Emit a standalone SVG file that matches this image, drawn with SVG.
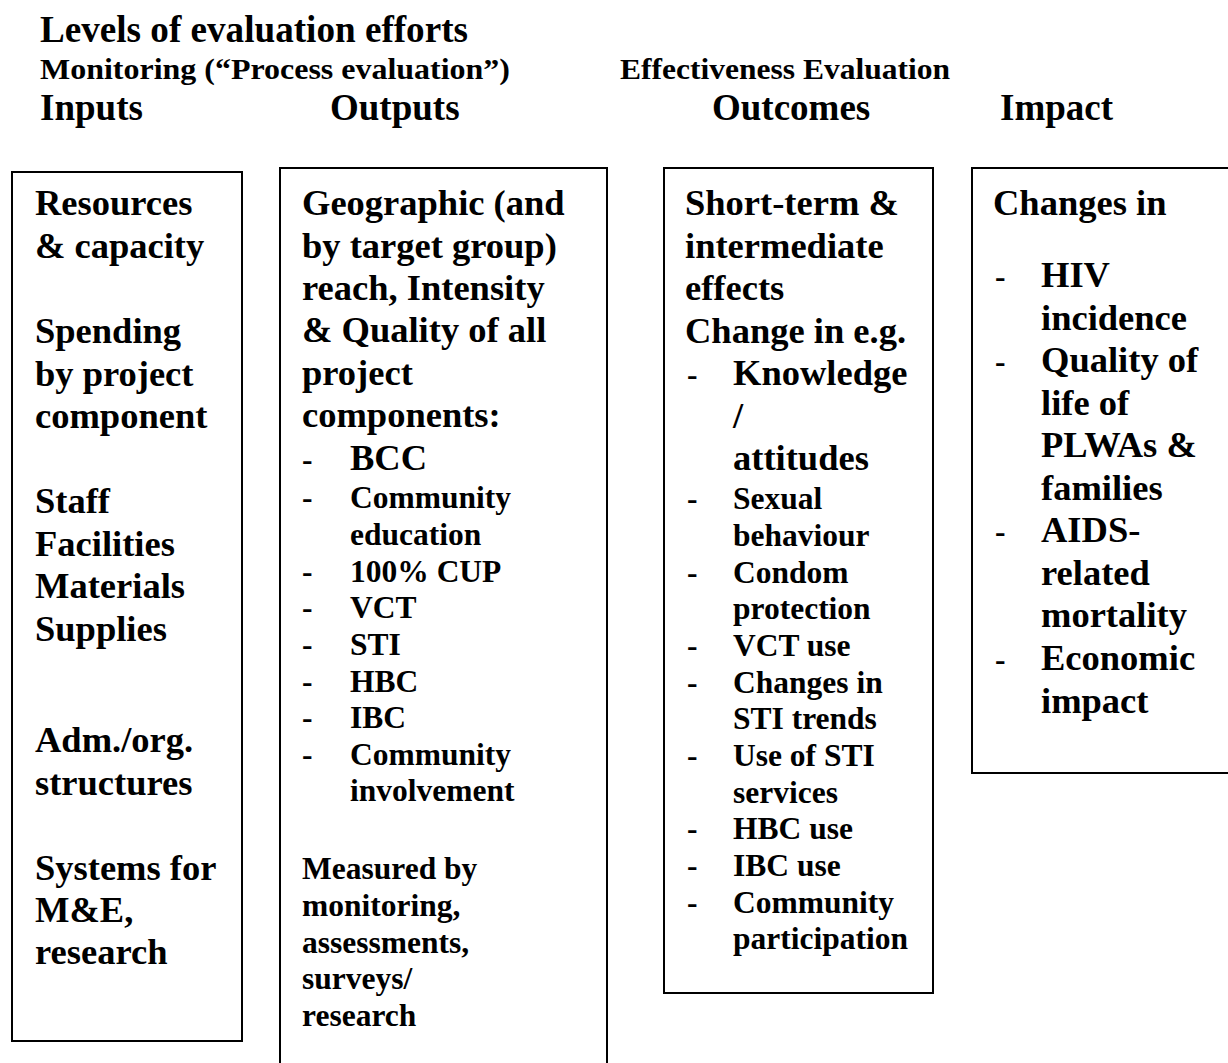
<svg xmlns="http://www.w3.org/2000/svg" width="1228" height="1063" viewBox="0 0 1228 1063">
  <style>
    text { font-family: "Liberation Serif", "Times New Roman", serif; font-weight: bold; fill: #000; }
    .title { font-size: 37px; }
    .sub { font-size: 30px; }
    .head { font-size: 37px; }
    .big { font-size: 36.5px; }
    .small { font-size: 31.5px; }
    .box { fill: #fff; stroke: #000; stroke-width: 2; }
  </style>
  <rect width="1228" height="1063" fill="#fff"/>

  <!-- Headings -->
  <g id="headings">
    <text class="title" x="40" y="42" textLength="428" lengthAdjust="spacingAndGlyphs">Levels of evaluation efforts</text>
    <text class="sub" x="40" y="79" textLength="470" lengthAdjust="spacingAndGlyphs">Monitoring (“Process evaluation”)</text>
    <text class="sub" x="620" y="79" textLength="330" lengthAdjust="spacingAndGlyphs">Effectiveness Evaluation</text>
    <text class="head" x="40" y="120">Inputs</text>
    <text class="head" x="330" y="120">Outputs</text>
    <text class="head" x="712" y="120">Outcomes</text>
    <text class="head" x="1000" y="120">Impact</text>
  </g>

  <!-- Inputs column -->
  <g id="inputs">
    <rect class="box" x="12" y="172" width="230" height="869"/>
    <text class="big" x="35" y="215">Resources</text>
    <text class="big" x="35" y="258">&amp; capacity</text>
    <text class="big" x="35" y="343">Spending</text>
    <text class="big" x="35" y="385.5">by project</text>
    <text class="big" x="35" y="428">component</text>
    <text class="big" x="35" y="513">Staff</text>
    <text class="big" x="35" y="555.5">Facilities</text>
    <text class="big" x="35" y="598">Materials</text>
    <text class="big" x="35" y="640.5">Supplies</text>
    <text class="big" x="35" y="752">Adm./org.</text>
    <text class="big" x="35" y="794.5">structures</text>
    <text class="big" x="35" y="880">Systems for</text>
    <text class="big" x="35" y="922">M&amp;E,</text>
    <text class="big" x="35" y="964">research</text>
  </g>

  <!-- Outputs column -->
  <g id="outputs">
    <rect class="box" x="280" y="168" width="327" height="910"/>
    <text class="big" x="302" y="215">Geographic (and</text>
    <text class="big" x="302" y="257.5">by target group)</text>
    <text class="big" x="302" y="300">reach, Intensity</text>
    <text class="big" x="302" y="342">&amp; Quality of all</text>
    <text class="big" x="302" y="384.5">project</text>
    <text class="big" x="302" y="427">components:</text>
    <text class="small" x="302" y="470">-</text>
    <text class="big" x="350" y="470">BCC</text>
    <text class="small" x="302" y="508">-</text>
    <text class="small" x="350" y="508">Community</text>
    <text class="small" x="350" y="545">education</text>
    <text class="small" x="302" y="582">-</text>
    <text class="small" x="350" y="582">100% CUP</text>
    <text class="small" x="302" y="618">-</text>
    <text class="small" x="350" y="618">VCT</text>
    <text class="small" x="302" y="655">-</text>
    <text class="small" x="350" y="655">STI</text>
    <text class="small" x="302" y="692">-</text>
    <text class="small" x="350" y="692">HBC</text>
    <text class="small" x="302" y="728">-</text>
    <text class="small" x="350" y="728">IBC</text>
    <text class="small" x="302" y="765">-</text>
    <text class="small" x="350" y="765">Community</text>
    <text class="small" x="350" y="801">involvement</text>
    <text class="small" x="302" y="879">Measured by</text>
    <text class="small" x="302" y="916">monitoring,</text>
    <text class="small" x="302" y="952.5">assessments,</text>
    <text class="small" x="302" y="989">surveys/</text>
    <text class="small" x="302" y="1026">research</text>
  </g>

  <!-- Outcomes column -->
  <g id="outcomes">
    <rect class="box" x="664" y="168" width="269" height="825"/>
    <text class="big" x="685" y="215">Short-term &amp;</text>
    <text class="big" x="685" y="257.5">intermediate</text>
    <text class="big" x="685" y="300">effects</text>
    <text class="big" x="685" y="342.5">Change in e.g.</text>
    <text class="small" x="687" y="385">-</text>
    <text class="big" x="733" y="385">Knowledge</text>
    <text class="big" x="733" y="427.5">/</text>
    <text class="big" x="733" y="470">attitudes</text>
    <text class="small" x="687" y="509">-</text>
    <text class="small" x="733" y="509">Sexual</text>
    <text class="small" x="733" y="546">behaviour</text>
    <text class="small" x="687" y="582.5">-</text>
    <text class="small" x="733" y="582.5">Condom</text>
    <text class="small" x="733" y="619">protection</text>
    <text class="small" x="687" y="656">-</text>
    <text class="small" x="733" y="656">VCT use</text>
    <text class="small" x="687" y="692.5">-</text>
    <text class="small" x="733" y="692.5">Changes in</text>
    <text class="small" x="733" y="729">STI trends</text>
    <text class="small" x="687" y="766">-</text>
    <text class="small" x="733" y="766">Use of STI</text>
    <text class="small" x="733" y="802.5">services</text>
    <text class="small" x="687" y="839">-</text>
    <text class="small" x="733" y="839">HBC use</text>
    <text class="small" x="687" y="876">-</text>
    <text class="small" x="733" y="876">IBC use</text>
    <text class="small" x="687" y="912.5">-</text>
    <text class="small" x="733" y="912.5">Community</text>
    <text class="small" x="733" y="949">participation</text>
  </g>

  <!-- Impact column -->
  <g id="impact">
    <rect class="box" x="972" y="168" width="270" height="605"/>
    <text class="big" x="993" y="215">Changes in</text>
    <text class="small" x="995" y="287">-</text>
    <text class="big" x="1041" y="287">HIV</text>
    <text class="big" x="1041" y="329.5">incidence</text>
    <text class="small" x="995" y="372">-</text>
    <text class="big" x="1041" y="372">Quality of</text>
    <text class="big" x="1041" y="414.5">life of</text>
    <text class="big" x="1041" y="457">PLWAs &amp;</text>
    <text class="big" x="1041" y="499.5">families</text>
    <text class="small" x="995" y="542">-</text>
    <text class="big" x="1041" y="542">AIDS-</text>
    <text class="big" x="1041" y="584.5">related</text>
    <text class="big" x="1041" y="627">mortality</text>
    <text class="small" x="995" y="670">-</text>
    <text class="big" x="1041" y="670">Economic</text>
    <text class="big" x="1041" y="712.5">impact</text>
  </g>

  <!-- No connectors are drawn between the columns -->
  <g id="connectors"/>
</svg>
